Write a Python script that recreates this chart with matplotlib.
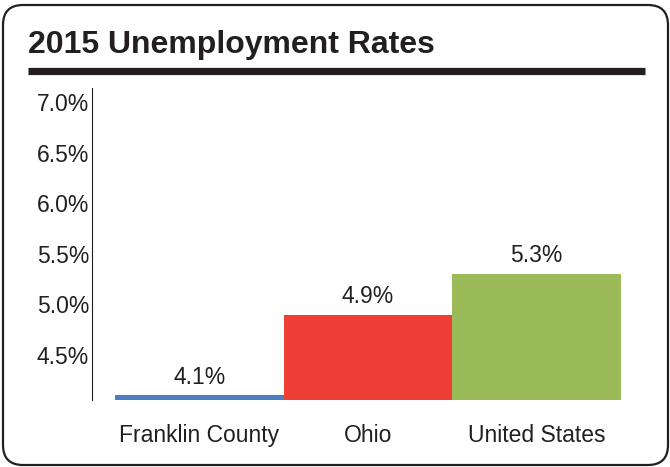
import matplotlib.pyplot as plt
from matplotlib.patches import FancyBboxPatch
from matplotlib.lines import Line2D
from matplotlib.transforms import IdentityTransform

plt.rcParams['font.family'] = ['Liberation Sans', 'DejaVu Sans']

# data
regions = ['Franklin County', 'Ohio', 'United States']
rates = [4.1, 4.9, 5.3]
colors = ['#4a7fc1', '#ef3e36', '#9bbb59']
yticks = [4.5, 5.0, 5.5, 6.0, 6.5, 7.0]

text_col = '#231f20'
base = 4.055

fig = plt.figure(figsize=(6.7, 4.67), dpi=100)
ax = fig.add_axes([92 / 670, 67 / 467, 548 / 670, 312 / 467])

x = range(len(regions))
ax.bar(x, [r - base for r in rates], bottom=base, width=1.0, color=colors)
for xi, r in zip(x, rates):
    ax.annotate('%.1f%%' % r, (xi, r), xytext=(0, 5), textcoords='offset points',
                ha='center', va='bottom', fontsize=16.5, color=text_col)

ax.set_ylim(base, 7.14)
ax.set_xlim(-0.636, 2.613)
ax.set_yticks(yticks)
ax.set_yticklabels(['%.1f%%' % t for t in yticks])
ax.set_xticks(list(x))
ax.set_xticklabels(regions)
ax.tick_params(axis='y', length=0, pad=2, labelsize=16.5, labelcolor=text_col)
ax.tick_params(axis='x', length=0, pad=17, labelsize=16.5, labelcolor=text_col)
for s in ['top', 'right', 'bottom']:
    ax.spines[s].set_visible(False)
ax.spines['left'].set_linewidth(0.8)
ax.spines['left'].set_color('#231f20')

# rounded frame, title and rule (pixel coordinates)
frame = FancyBboxPatch((3, 2), 665, 460, boxstyle='round,pad=0,rounding_size=20',
                       transform=IdentityTransform(), fill=False,
                       edgecolor='#231f20', linewidth=1.6)
fig.patches.append(frame)
fig.lines.append(Line2D([28, 645], [396.5, 396.5], transform=IdentityTransform(),
                        color='#231f20', linewidth=5.2, solid_capstyle='butt'))
fig.text(28 / 670, 414 / 467, '2015 Unemployment Rates', fontsize=23,
         fontweight='bold', color=text_col, va='baseline', ha='left')

plt.savefig('out.png', dpi=100)
